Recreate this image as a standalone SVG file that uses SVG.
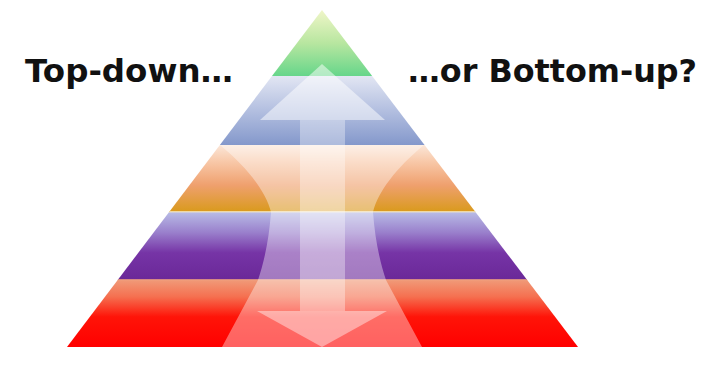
<svg xmlns="http://www.w3.org/2000/svg" width="709" height="381" viewBox="0 0 709 381">
  <defs>
    <linearGradient id="gGreen" x1="0" y1="10" x2="0" y2="76" gradientUnits="userSpaceOnUse">
      <stop offset="0" stop-color="#f0f6c8"/>
      <stop offset="0.5" stop-color="#b8e6a0"/>
      <stop offset="1" stop-color="#66d68a"/>
    </linearGradient>
    <linearGradient id="gBlue" x1="0" y1="76" x2="0" y2="145" gradientUnits="userSpaceOnUse">
      <stop offset="0" stop-color="#e2e6f3"/>
      <stop offset="0.5" stop-color="#b3bfe0"/>
      <stop offset="1" stop-color="#8498cb"/>
    </linearGradient>
    <linearGradient id="gOrange" x1="0" y1="145" x2="0" y2="212" gradientUnits="userSpaceOnUse">
      <stop offset="0" stop-color="#fbe6d8"/>
      <stop offset="0.25" stop-color="#f8c8a8"/>
      <stop offset="0.6" stop-color="#efa06e"/>
      <stop offset="1" stop-color="#d99a1c"/>
    </linearGradient>
    <linearGradient id="gPurple" x1="0" y1="212" x2="0" y2="280" gradientUnits="userSpaceOnUse">
      <stop offset="0" stop-color="#b8bce6"/>
      <stop offset="0.3" stop-color="#9a80cc"/>
      <stop offset="0.6" stop-color="#7634a6"/>
      <stop offset="1" stop-color="#6a2898"/>
    </linearGradient>
    <linearGradient id="gRed" x1="0" y1="280" x2="0" y2="347" gradientUnits="userSpaceOnUse">
      <stop offset="0" stop-color="#f09a78"/>
      <stop offset="0.25" stop-color="#f57050"/>
      <stop offset="0.55" stop-color="#ff1408"/>
      <stop offset="1" stop-color="#ff0000"/>
    </linearGradient>
    <clipPath id="tri">
      <polygon points="322,10 578,347 67,347"/>
    </clipPath>
  </defs>
  <style>
    .label { font-family: "DejaVu Sans", Verdana, sans-serif; font-weight: bold; font-size: 32px; fill: #111111; }
    .veil { fill: #ffffff; }
  </style>
  <rect width="709" height="381" fill="#ffffff"/>

  <g id="pyramid" clip-path="url(#tri)">
    <rect id="band-green" x="60" y="10" width="530" height="66" fill="url(#gGreen)"/>
    <rect id="band-blue" x="60" y="76" width="530" height="69" fill="url(#gBlue)"/>
    <rect id="band-orange" x="60" y="145" width="530" height="67" fill="url(#gOrange)"/>
    <rect id="band-purple" x="60" y="212" width="530" height="68" fill="url(#gPurple)"/>
    <rect id="band-red" x="60" y="280" width="530" height="67" fill="url(#gRed)"/>
    <rect x="60" y="211" width="530" height="1.5" fill="#f4e8c8" opacity="0.8"/>
    <rect x="60" y="279" width="530" height="1.5" fill="#f0a080" opacity="0.8"/>
  </g>

  <g id="arrows" clip-path="url(#tri)">
    <path id="hourglass" class="veil" opacity="0.38" d="M220,145 C248,168 266,192 271,212 C269,240 264,262 258,280 L222,347 L422,347 L386,280 C380,262 375,240 373,212 C378,192 396,168 424,145 Z"/>
    <rect id="shaft" class="veil" opacity="0.34" x="300" y="120" width="45" height="191"/>
    <polygon id="head-up" class="veil" opacity="0.5" points="322,64 385,120 260,120"/>
    <polygon id="head-down" class="veil" opacity="0.42" points="257,311 387,311 322,347"/>
  </g>

  <g id="labels">
    <text class="label" x="25" y="82" textLength="208" lengthAdjust="spacingAndGlyphs">Top-down…</text>
    <text class="label" x="408" y="82" textLength="289" lengthAdjust="spacingAndGlyphs">…or Bottom-up?</text>
  </g>
</svg>
